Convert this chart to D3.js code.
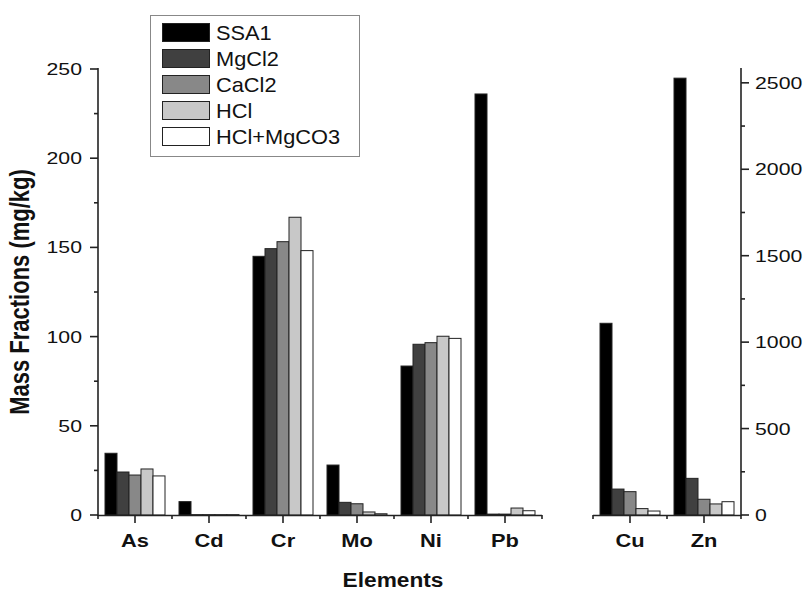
<!DOCTYPE html>
<html>
<head>
<meta charset="utf-8">
<script src="https://cdn.jsdelivr.net/npm/d3@7"></script>
<style>
  body { margin: 0; background: #fff; }
  text { font-family: Arial, "Liberation Sans", sans-serif; fill: #111; }
</style>
</head>
<body>
<script>
// data
const series = ["SSA1", "MgCl2", "CaCl2", "HCl", "HCl+MgCO3"];
const leftCats = ["As", "Cd", "Cr", "Mo", "Ni", "Pb"];
const rightCats = ["Cu", "Zn"];

const ssa1Left   = [34.6, 7.5, 145.0, 28.0, 83.5, 236.0];
const mgcl2Left  = [24.1, 0.2, 149.3, 7.1, 95.7, 0.5];
const cacl2Left  = [22.4, 0.2, 153.2, 6.3, 96.6, 0.5];
const hclLeft    = [25.8, 0.2, 166.9, 1.7, 100.2, 3.9];
const hclMgLeft  = [21.9, 0.2, 148.2, 0.7, 99.0, 2.4];

const ssa1Right  = [1109, 2527];
const mgcl2Right = [150, 212];
const cacl2Right = [135, 91];
const hclRight   = [37, 64];
const hclMgRight = [23, 77];

const leftTicks = [0, 50, 100, 150, 200, 250];
const rightTicks = [0, 500, 1000, 1500, 2000, 2500];

const leftValues = [ssa1Left, mgcl2Left, cacl2Left, hclLeft, hclMgLeft];
const rightValues = [ssa1Right, mgcl2Right, cacl2Right, hclRight, hclMgRight];

const colors = ["#000000", "#404040", "#888888", "#c8c8c8", "#ffffff"];

const svg = d3.select("body").append("svg").attr("width", 808).attr("height", 592);

const y0 = 515, yTop = 69;
const yL = d3.scaleLinear().domain([0, 250]).range([y0, yTop]);
const yR = d3.scaleLinear().domain([0, 2580]).range([y0, yTop]);
const xL = d3.scaleBand().domain(leftCats).range([98, 542]);
const xR = d3.scaleBand().domain(rightCats).range([593, 741]);
const xS = d3.scaleBand().domain(series).range([-30, 30]);

function stretchText(g, x, y, txt, size, sx, anchor, weight) {
  return g.append("text")
    .attr("transform", `translate(${x},${y}) scale(${sx},1)`)
    .attr("text-anchor", anchor)
    .attr("font-size", size)
    .attr("font-weight", weight || "normal")
    .text(txt);
}

// bars
function drawBars(cats, xScale, yScale, values) {
  series.forEach((s, si) => {
    svg.append("g").selectAll("rect")
      .data(cats.map((c, ci) => ({ c, v: values[si][ci] })))
      .join("rect")
      .attr("x", d => xScale(d.c) + xScale.bandwidth() / 2 + xS(s))
      .attr("width", xS.bandwidth())
      .attr("y", d => yScale(d.v))
      .attr("height", d => y0 - yScale(d.v))
      .attr("fill", colors[si])
      .attr("stroke", "#222")
      .attr("stroke-width", 1);
  });
}
drawBars(leftCats, xL, yL, leftValues);
drawBars(rightCats, xR, yR, rightValues);

const axis = svg.append("g").attr("stroke", "#222").attr("stroke-width", 1.6).attr("fill", "none");

// left y axis
axis.append("line").attr("x1", 98).attr("x2", 98).attr("y1", yTop - 1).attr("y2", y0 + 1);
leftTicks.forEach(t => {
  axis.append("line").attr("x1", 90).attr("x2", 98).attr("y1", yL(t)).attr("y2", yL(t));
  stretchText(svg, 82, yL(t) + 6, t, 17, 1.25, "end");
});
d3.range(25, 250, 50).forEach(t => {
  axis.append("line").attr("x1", 94).attr("x2", 98).attr("y1", yL(t)).attr("y2", yL(t));
});

// right y axis
axis.append("line").attr("x1", 741).attr("x2", 741).attr("y1", yTop - 1).attr("y2", y0 + 1);
rightTicks.forEach(t => {
  axis.append("line").attr("x1", 741).attr("x2", 749).attr("y1", yR(t)).attr("y2", yR(t));
  stretchText(svg, 755, yR(t) + 6, t, 17, 1.25, "start");
});
d3.range(250, 2580, 500).forEach(t => {
  axis.append("line").attr("x1", 741).attr("x2", 745).attr("y1", yR(t)).attr("y2", yR(t));
});

// x axes
function drawX(cats, xScale) {
  const [a, b] = xScale.range();
  axis.append("line").attr("x1", a).attr("x2", b).attr("y1", y0 + 0.5).attr("y2", y0 + 0.5);
  cats.forEach(c => {
    const cx = xScale(c) + xScale.bandwidth() / 2;
    axis.append("line").attr("x1", cx).attr("x2", cx).attr("y1", y0).attr("y2", y0 + 8);
    stretchText(svg, cx, 547, c, 19, 1.15, "middle", "bold");
  });
  cats.map(c => xScale(c)).concat([b]).forEach(x => {
    axis.append("line").attr("x1", x).attr("x2", x).attr("y1", y0).attr("y2", y0 + 4);
  });
}
drawX(leftCats, xL);
drawX(rightCats, xR);

// axis titles
stretchText(svg, 393, 587, "Elements", 21, 1.08, "middle", "bold");
svg.append("text")
  .attr("transform", `translate(29,292) rotate(-90) scale(1,1.25)`)
  .attr("text-anchor", "middle")
  .attr("font-size", 22)
  .attr("font-weight", "bold")
  .text("Mass Fractions (mg/kg)");

// legend
const legend = svg.append("g");
legend.append("rect").attr("x", 150.5).attr("y", 15.5).attr("width", 209).attr("height", 141)
  .attr("fill", "#fff").attr("stroke", "#888").attr("stroke-width", 1);
series.forEach((s, i) => {
  const ry = 23.5 + i * 26;
  legend.append("rect").attr("x", 162.5).attr("y", ry).attr("width", 47).attr("height", 18)
    .attr("fill", colors[i]).attr("stroke", "#222").attr("stroke-width", 1);
  stretchText(legend, 216, ry + 16, s, 20, 1.09, "start");
});
</script>
</body>
</html>
